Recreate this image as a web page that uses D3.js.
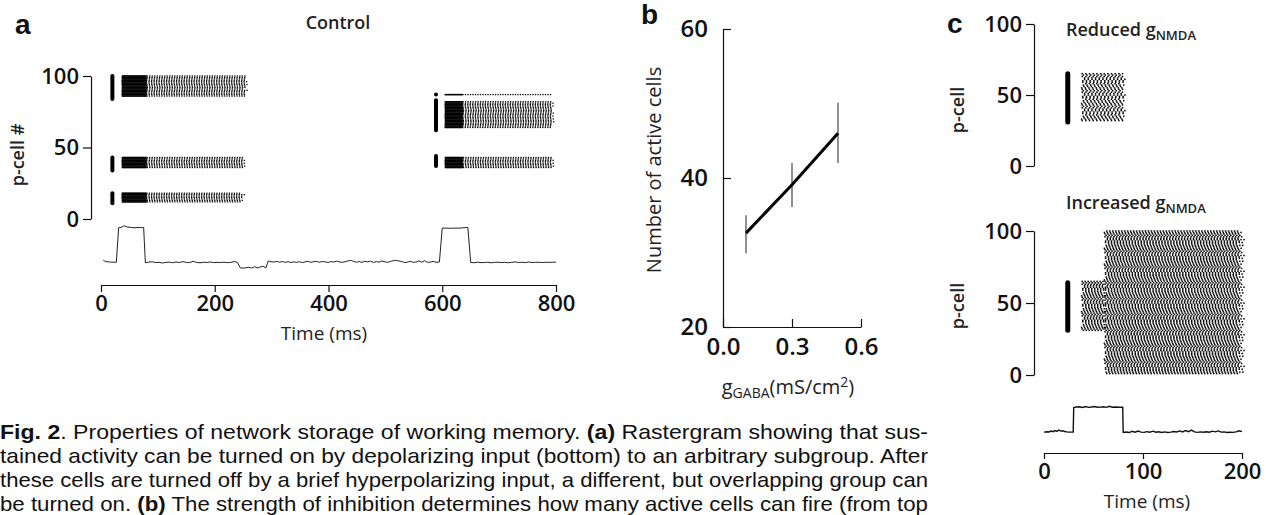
<!DOCTYPE html>
<html>
<head>
<meta charset="utf-8">
<script src="https://cdn.jsdelivr.net/npm/d3@7"></script>
<style>
    body { margin: 0; background: #fff; }
    svg { display: block; }
    text { font-family: "Open Sans", sans-serif; fill: #111; }
    .axis text { font-size: 22px; font-weight: 600; fill: #111; }
    .axis path, .axis line { stroke: #111; stroke-width: 1.2; }
    .big .axis text { font-size: 24px; }
    .label { font-size: 18px; font-weight: 600; fill: #222; }
    .letter { font-family: "Liberation Sans", sans-serif; font-size: 28px; font-weight: bold; fill: #111; }
    .caption { font-family: "Liberation Sans", sans-serif; font-size: 21px; fill: #111; }
</style>
</head>
<body>
<div id="fig"></div>
<script>
// panel a
const timeTicksA = [0, 200, 400, 600, 800];
const cellTicks = [0, 50, 100];
const stimA = [
    { t: 20, lo: 84, hi: 100 },
    { t: 20, lo: 34, hi: 43 },
    { t: 20, lo: 11, hi: 18 },
    { t: 589, lo: 87, hi: 87 },
    { t: 589, lo: 62, hi: 83 },
    { t: 589, lo: 37, hi: 44 }
];
const rasterA = [
    { lo: 86, hi: 100, start: 37, denseEnd: 80, end: 256, period: 4.4 },
    { lo: 36, hi: 43, start: 37, denseEnd: 80, end: 253, period: 4.4 },
    { lo: 12, hi: 18, start: 37, denseEnd: 80, end: 250, period: 4.4 },
    { lo: 87, hi: 87, start: 605, denseEnd: 636, end: 795, period: 4.4 },
    { lo: 64, hi: 82, start: 605, denseEnd: 636, end: 795, period: 4.4 },
    { lo: 36, hi: 43, start: 605, denseEnd: 636, end: 795, period: 4.4 }
];
const traceA = [
    [4, -58.6], [8, -59.6], [13, -59.9], [18, -60.1], [27, -60.2], [31, -32.6], [35, -32.4], [41, -31.0],
    [46, -32.0], [52, -32.3], [58, -32.6], [65, -32.4], [71, -32.5], [75, -32.4], [78, -60.6],
    [84, -60.1], [90, -59.8], [96, -60.5], [102, -60.2], [108, -60.8], [114, -60.3], [120, -60.1],
    [126, -60.6], [132, -60.0], [138, -60.4], [144, -59.7], [150, -60.3], [156, -60.5], [162, -59.4],
    [168, -60.3], [174, -60.6], [180, -60.2], [186, -60.4], [192, -60.0], [198, -60.5], [204, -60.3],
    [210, -60.4], [216, -60.2], [222, -60.5], [228, -60.3], [234, -59.6], [240, -60.4], [245, -64.8],
    [250, -64.9], [255, -64.6], [260, -64.2], [265, -64.9], [270, -63.8], [275, -64.7], [280, -64.0],
    [285, -63.4], [290, -64.7], [294, -59.2], [299, -59.8], [304, -60.0], [309, -59.5], [314, -60.2],
    [319, -59.6], [324, -60.3], [329, -59.7], [334, -60.4], [339, -59.9], [344, -60.3], [349, -59.8],
    [354, -60.5], [359, -59.9], [364, -59.4], [369, -60.3], [374, -59.7], [379, -59.5], [384, -60.2],
    [389, -59.6], [394, -59.9], [399, -60.4], [404, -59.7], [409, -60.0], [414, -59.3], [419, -59.9],
    [424, -60.3], [429, -59.8], [434, -59.2], [439, -58.7], [444, -59.5], [449, -60.2], [454, -59.6],
    [459, -60.3], [464, -59.4], [469, -59.9], [474, -59.3], [479, -60.4], [484, -59.7], [489, -60.1],
    [494, -59.2], [499, -59.9], [504, -60.3], [509, -59.5], [514, -59.0], [519, -58.7], [524, -59.2],
    [529, -59.6], [534, -60.5], [539, -60.1], [544, -59.4], [549, -60.3], [554, -60.0], [559, -59.1],
    [564, -60.2], [569, -58.9], [574, -60.3], [579, -60.1], [584, -59.5], [589, -60.2], [595, -60.0],
    [600, -32.8], [607, -32.9], [615, -33.0], [622, -32.9], [630, -32.9], [638, -32.6], [645, -32.3],
    [650, -60.3], [656, -60.6], [662, -60.1], [668, -60.5], [674, -60.4], [680, -60.2], [686, -60.6],
    [692, -60.3], [698, -60.1], [704, -60.5], [710, -60.2], [716, -60.6], [722, -60.3], [728, -59.9],
    [734, -60.4], [740, -60.2], [746, -60.5], [752, -60.0], [758, -60.4], [764, -60.3], [770, -60.2],
    [776, -60.4], [782, -60.2], [788, -60.3], [794, -60.2], [800, -60.1]
];

// panel b
const gaba = [0.1, 0.3, 0.5];
const activeCells = [32.6, 39.1, 46.0];
const activeLo = [29.9, 36.1, 42.0];
const activeHi = [35.0, 42.0, 50.1];
const gabaTicks = [0, 0.3, 0.6];
const activeTicks = [20, 40, 60];

// panel c
const timeTicksC = [0, 100, 200];
const stimReduced = [{ t: 24, lo: 31, hi: 65 }];
const rasterReduced = [{ lo: 32, hi: 65, start: 38, denseEnd: 38, end: 81, period: 3.7 }];
const stimIncreased = [{ t: 24, lo: 31, hi: 64 }];
const rasterIncreased = [
    { lo: 31, hi: 65, start: 38, denseEnd: 38, end: 62, period: 3.0 },
    { lo: 1, hi: 100, start: 61, denseEnd: 61, end: 200, period: 3.0 }
];
const traceC = [
    [0, -60.2], [3, -59.8], [5, -60.0], [7, -58.9], [9, -59.6], [11, -58.4], [13, -59.3], [15, -57.8],
    [17, -59.0], [19, -58.6], [21, -59.5], [23, -59.9], [25, -60.1], [29.5, -60.0], [30, -32.6], [33, -32.0],
    [36, -31.8], [39, -32.6], [42, -31.5], [45, -32.4], [48, -32.0], [51, -31.4], [54, -32.3], [57, -32.1],
    [60, -31.7], [63, -32.4], [66, -31.2], [69, -32.2], [72, -32.0], [75, -32.3], [79.5, -32.2], [80, -60.5],
    [83, -60.0], [86, -60.6], [89, -59.2], [92, -60.3], [95, -58.9], [98, -60.1], [101, -60.4], [104, -59.6],
    [107, -60.2], [110, -59.1], [113, -60.3], [116, -59.7], [119, -60.5], [122, -59.9], [125, -60.6],
    [128, -60.2], [131, -59.4], [134, -60.0], [137, -58.8], [140, -59.9], [143, -58.3], [146, -59.6],
    [149, -57.9], [152, -59.8], [155, -60.4], [158, -59.9], [161, -60.3], [164, -59.7], [167, -60.2],
    [170, -59.0], [173, -59.8], [176, -58.8], [179, -60.1], [182, -59.9], [185, -60.5], [188, -60.2],
    [191, -60.4], [194, -59.8], [197, -58.7], [200, -59.6]
];

// per-cell spike phase and row-end offsets (ms)
const cellPhase = [0, 0.3, 0.7, 1.0, 1.4, 1.1, 0.8, 0.4, 0.1, 0.5, 0.9, 1.3, 1.6, 1.2, 0.6, 0.2];
const rowEndShift = [0, -4, 3, -7, 2, -2, 5, -5, 1, -3, -1];

const caption = [
    [["Fig. 2", true], [". Properties of network storage of working memory. ", false], ["(a)", true], [" Rastergram showing that sus-", false]],
    [["tained activity can be turned on by depolarizing input (bottom) to an arbitrary subgroup. After", false]],
    [["these cells are turned off by a brief hyperpolarizing input, a different, but overlapping group can", false]],
    [["be turned on. ", false], ["(b)", true], [" The strength of inhibition determines how many active cells can fire (from top", false]]
];

let svg = d3.select("#fig")
    .append("svg")
    .attr("width", 1266)
    .attr("height", 515);

function spikesOf(blocks) {
    let pts = [];
    blocks.forEach(b => {
        for (let c = b.lo; c <= b.hi; c++) {
            let ph = cellPhase[c % cellPhase.length];
            let sh = rowEndShift[c % rowEndShift.length];
            for (let t = b.start + ph * 0.3; t < b.denseEnd; t += 1.0) pts.push([t, c]);
            let s = Math.max(b.start, b.denseEnd) + (b.denseEnd > b.start ? ph : Math.abs(sh) * 0.6);
            for (let t = s; t <= b.end + sh * 0.5; t += b.period) pts.push([t, c]);
        }
    });
    return pts;
}

function drawRaster(g, x, y, blocks, stims, barW, dot) {
    g.append("g")
        .selectAll("rect")
        .data(spikesOf(blocks))
        .enter()
        .append("rect")
        .attr("x", d => x(d[0]) - dot / 2)
        .attr("y", d => y(d[1]) - dot / 2)
        .attr("width", dot)
        .attr("height", dot)
        .attr("fill", "#000");
    g.append("g")
        .selectAll("line")
        .data(stims)
        .enter()
        .append("line")
        .attr("x1", d => x(d.t))
        .attr("x2", d => x(d.t))
        .attr("y1", d => y(d.lo))
        .attr("y2", d => y(d.hi))
        .attr("stroke", "#000")
        .attr("stroke-width", barW)
        .attr("stroke-linecap", "round");
}

// ---------- panel a ----------
let xA = d3.scaleLinear().domain([0, 800]).range([101, 556]);
let yA = d3.scaleLinear().domain([0, 100]).range([219, 76]);
let vA = d3.scaleLinear().domain([-60, -32]).range([262, 227]);

let gA = svg.append("g");
gA.append("text").attr("class", "letter").attr("x", 15).attr("y", 34).text("a");
gA.append("text").attr("class", "label").attr("x", 338).attr("y", 29)
    .attr("text-anchor", "middle").text("Control");

gA.append("g").attr("class", "axis")
    .attr("transform", "translate(91,0)")
    .call(d3.axisLeft(yA).tickValues(cellTicks).tickSizeInner(8).tickSizeOuter(0).tickPadding(4));
gA.append("g").attr("class", "axis")
    .attr("transform", "translate(0,285)")
    .call(d3.axisBottom(xA).tickValues(timeTicksA).tickSizeInner(7).tickSizeOuter(0).tickPadding(3));

gA.append("text").attr("class", "label")
    .attr("transform", "translate(24,155) rotate(-90)")
    .attr("text-anchor", "middle").text("p-cell #");
gA.append("text").attr("class", "label").attr("x", 324).attr("y", 340)
    .attr("text-anchor", "middle").style("font-size", "19px").style("font-weight", 500).text("Time (ms)");

drawRaster(gA, xA, yA, rasterA, stimA, 4, 1.3);

gA.append("path")
    .datum(traceA)
    .attr("fill", "none")
    .attr("stroke", "#222")
    .attr("stroke-width", 1)
    .attr("d", d3.line().x(d => xA(d[0])).y(d => vA(d[1])));

// ---------- panel b ----------
let xB = d3.scaleLinear().domain([0, 0.6]).range([723, 861]);
let yB = d3.scaleLinear().domain([20, 60]).range([327, 29]);

let gB = svg.append("g").attr("class", "big");
gB.append("text").attr("class", "letter").attr("x", 641).attr("y", 24).text("b");

gB.append("g").attr("class", "axis")
    .attr("transform", "translate(723,0)")
    .call(d3.axisLeft(yB).tickValues(activeTicks).tickSizeInner(-8).tickSizeOuter(0).tickPadding(15));
gB.append("g").attr("class", "axis")
    .attr("transform", "translate(0,327)")
    .call(d3.axisBottom(xB).tickValues(gabaTicks).tickFormat(d3.format(".1f"))
        .tickSizeInner(-8).tickSizeOuter(0).tickPadding(11));

gB.append("text").attr("class", "label")
    .attr("transform", "translate(661,170) rotate(-90)")
    .attr("text-anchor", "middle").style("font-size", "20px").style("font-weight", 500)
    .text("Number of active cells");

let gabaLabel = gB.append("text").attr("class", "label").attr("x", 788).attr("y", 394)
    .attr("text-anchor", "middle").style("font-size", "20px").style("font-weight", 500);
gabaLabel.append("tspan").text("g");
gabaLabel.append("tspan").attr("dy", 4).style("font-size", "14px").text("GABA");
gabaLabel.append("tspan").attr("dy", -4).text("(mS/cm");
gabaLabel.append("tspan").attr("dy", -7).style("font-size", "14px").text("2");
gabaLabel.append("tspan").attr("dy", 7).text(")");

gB.append("g")
    .selectAll("line")
    .data(gaba)
    .enter()
    .append("line")
    .attr("x1", d => xB(d))
    .attr("x2", d => xB(d))
    .attr("y1", (d, i) => yB(activeLo[i]))
    .attr("y2", (d, i) => yB(activeHi[i]))
    .attr("stroke", "#333")
    .attr("stroke-width", 1.1);

gB.append("path")
    .datum(gaba.map((g, i) => [g, activeCells[i]]))
    .attr("fill", "none")
    .attr("stroke", "#000")
    .attr("stroke-width", 3)
    .attr("d", d3.line().x(d => xB(d[0])).y(d => yB(d[1])));

// ---------- panel c ----------
let xC = d3.scaleLinear().domain([0, 200]).range([1044, 1242]);
let yCtop = d3.scaleLinear().domain([0, 100]).range([166, 24]);
let yCbot = d3.scaleLinear().domain([0, 100]).range([375, 231]);
let vC = d3.scaleLinear().domain([-60, -32]).range([432, 407]);

let gC = svg.append("g");
gC.append("text").attr("class", "letter").attr("x", 947).attr("y", 33).text("c");

[[yCtop, 110], [yCbot, 306]].forEach(([y, mid]) => {
    gC.append("g").attr("class", "axis")
        .attr("transform", "translate(1034,0)")
        .call(d3.axisLeft(y).tickValues(cellTicks).tickSizeInner(8).tickSizeOuter(0).tickPadding(4));
    gC.append("text").attr("class", "label")
        .attr("transform", `translate(964,${mid}) rotate(-90)`)
        .attr("text-anchor", "middle").text("p-cell");
});

[["Reduced ", 36], ["Increased ", 209]].forEach(([word, yy]) => {
    let t = gC.append("text").attr("class", "label").attr("x", 1066).attr("y", yy);
    t.append("tspan").text(word + "g");
    t.append("tspan").attr("dy", 4).style("font-size", "13px").text("NMDA");
});

gC.append("g").attr("class", "axis")
    .attr("transform", "translate(0,453)")
    .call(d3.axisBottom(xC).tickValues(timeTicksC).tickSizeInner(6).tickSizeOuter(0).tickPadding(4));
gC.append("text").attr("class", "label").attr("x", 1147).attr("y", 508)
    .attr("text-anchor", "middle").style("font-size", "19px").style("font-weight", 500).text("Time (ms)");

drawRaster(gC, xC, yCtop, rasterReduced, stimReduced, 5, 1.5);
drawRaster(gC, xC, yCbot, rasterIncreased, stimIncreased, 5, 1.5);

gC.append("path")
    .datum(traceC)
    .attr("fill", "none")
    .attr("stroke", "#111")
    .attr("stroke-width", 1.4)
    .attr("d", d3.line().x(d => xC(d[0])).y(d => vC(d[1])));

// ---------- caption ----------
caption.forEach((line, i) => {
    let t = svg.append("text")
        .attr("class", "caption")
        .attr("x", 0)
        .attr("y", 439 + i * 24)
        .attr("textLength", 928)
        .attr("lengthAdjust", "spacingAndGlyphs");
    line.forEach(([s, bold]) => {
        t.append("tspan").style("font-weight", bold ? "bold" : "normal").text(s);
    });
});
</script>
</body>
</html>
